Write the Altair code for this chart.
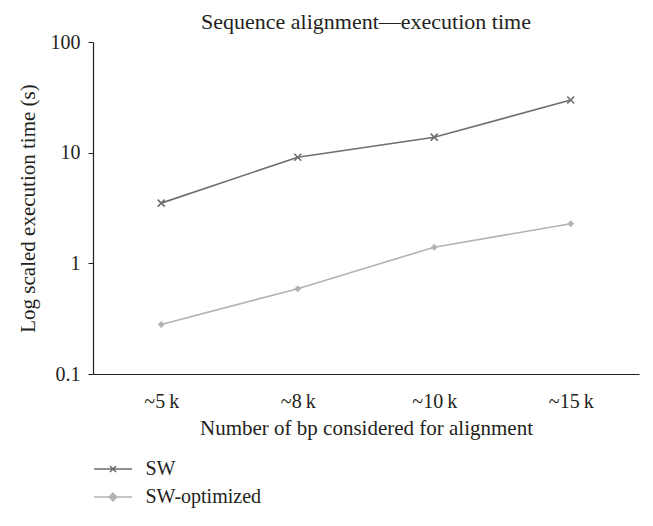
import altair as alt
import pandas as pd

categories = ["~5\u2009k", "~8\u2009k", "~10\u2009k", "~15\u2009k"]
series_names = ["SW", "SW-optimized"]
sw_values = [3.5, 9.1, 13.8, 29.9]
sw_opt_values = [0.28, 0.59, 1.4, 2.28]
y_ticks = [0.1, 1, 10, 100]

colors = ["#6e6e6e", "#b3b3b3"]
FONT = "Liberation Serif"
TXT = "#231f20"

rows = []
for c, v in zip(categories, sw_values):
    rows.append({"size": c, "time": v, "series": series_names[0]})
for c, v in zip(categories, sw_opt_values):
    rows.append({"size": c, "time": v, "series": series_names[1]})
df = pd.DataFrame(rows)

x_enc = alt.X("size:N", sort=categories, scale=alt.Scale(padding=0.5),
              axis=alt.Axis(title="Number of bp considered for alignment", labelAngle=0,
                            ticks=False, labelPadding=17, titlePadding=6,
                            domainColor=TXT, domainWidth=1.2))
y_enc = alt.Y("time:Q", scale=alt.Scale(type="log", domain=[0.1, 100], nice=False),
              axis=alt.Axis(title="Log scaled execution time (s)", values=y_ticks, format="~g",
                            grid=False, tickSize=5, labelPadding=8, titlePadding=12,
                            domainColor=TXT, tickColor=TXT, domainWidth=1.2))

base = alt.Chart(df)
sw_base = base.transform_filter(alt.datum.series == series_names[0])
opt_base = base.transform_filter(alt.datum.series == series_names[1])

sw_line = sw_base.mark_line(strokeWidth=1.6, color=colors[0]).encode(x=x_enc, y=y_enc)
opt_line = opt_base.mark_line(strokeWidth=1.6, color=colors[1]).encode(x=x_enc, y=y_enc)

sw_pts = sw_base.mark_point(
    shape="M-1,-1L1,1M-1,1L1,-1", size=49, strokeWidth=1.6, filled=False, opacity=1, color=colors[0]
).encode(x=x_enc, y=y_enc)

opt_pts = opt_base.mark_point(
    shape="diamond", size=50, filled=True, opacity=1, color=colors[1]
).encode(x=x_enc, y=y_enc)

legend_paths = [
    "M-2,0H2M-0.32,-0.32L0.32,0.32M-0.32,0.32L0.32,-0.32",
    "M-2,0H2M0,-0.4L0.4,0L0,0.4L-0.4,0Z",
]

leg = alt.Legend(title=None, orient="none", legendX=9.5, legendY=416.5,
                 symbolSize=361, symbolStrokeWidth=1.6, symbolOpacity=1,
                 labelOffset=22, rowPadding=7, padding=0,
                 labelFontSize=20, labelFont=FONT, labelColor=TXT)

legend_layer = base.mark_point(filled=True, opacity=0).encode(
    x=x_enc, y=y_enc,
    color=alt.Color("series:N", scale=alt.Scale(domain=series_names, range=colors), legend=leg),
    shape=alt.Shape("series:N", scale=alt.Scale(domain=series_names, range=legend_paths), legend=leg),
    stroke=alt.Stroke("series:N", scale=alt.Scale(domain=series_names, range=colors), legend=leg),
)

chart = alt.layer(sw_line, opt_line, sw_pts, opt_pts, legend_layer).properties(
    width=546, height=332,
    title=alt.Title("Sequence alignment\u2014execution time", font=FONT, fontSize=22,
                    fontWeight="normal", color=TXT, offset=-2),
    autosize=alt.AutoSizeParams(type="none"),
    padding={"left": 85, "top": 34, "right": 6, "bottom": 140},
).configure_view(stroke=None).configure_axis(
    labelFont=FONT, titleFont=FONT, labelFontSize=20, titleFontSize=21,
    labelColor=TXT, titleColor=TXT, titleFontWeight="normal"
)

chart.save("out.html", embed_options={"renderer": "svg", "actions": False})
